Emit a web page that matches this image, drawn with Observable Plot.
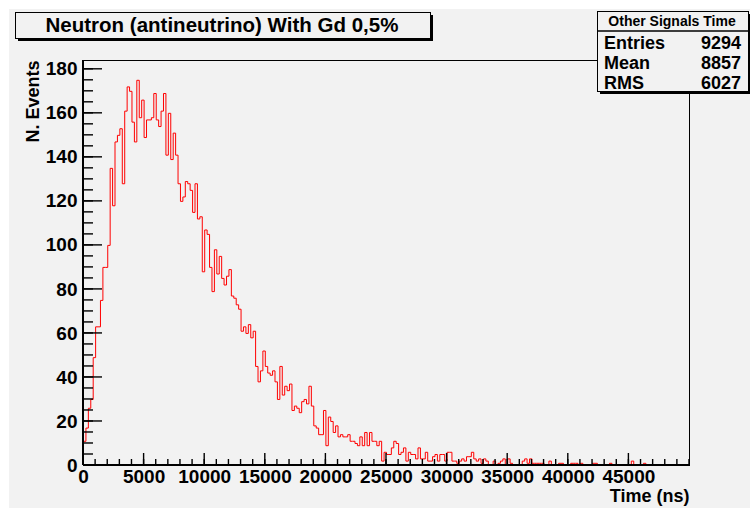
<!DOCTYPE html>
<html><head><meta charset="utf-8">
<script src="https://cdn.jsdelivr.net/npm/d3@7"></script>
<script src="https://cdn.jsdelivr.net/npm/@observablehq/plot@0.6"></script>
<style>
html,body{margin:0;padding:0;background:#fff;}
#chart svg{display:block;}
</style>
</head><body><div id="chart"></div>
<script>
// ---- data (250 bins of 200 ns, 0..50000 ns) ----
const binWidth = 200;
const counts = [
  11,17,26,30,49,63,63,75,90,90,100,
  135,118,147,150,153,128,161,172,170,156,147,175,158,166,149,157,157,158,169,157,154,161,169,141,160,139,151,141,
  128,120,122,129,128,125,115,128,112,113,88,107,105,90,79,98,87,95,85,82,86,89,77,76,73,71,61,63,60,64,58,
  61,45,38,43,52,45,42,41,43,38,30,45,32,36,34,37,25,27,26,24,29,30,28,36,27,18,17,14,14,25,9,22,20,15,18,13,
  14,13,13,14,11,11,10,9,13,9,15,9,15,11,11,9,11,
  2,6,5,5,8,11,10,5,6,8,2,6,5,5,3,8,3,3,6,2,2,4,5,2,5,5,2,6,6,2,2,1,2,3,2,4,4,6,3,2,3,1,3,2,0,0,2,0,1,2,3,
  0,3,1,0,0,0,0,2,3,1,3,1,1,1,1,1,0,0,2,0,0,0,1,1,0,0,0,1,1,1,0,1,0,0,0,0,1,1,0,0,0,0,0,1,0,0,0,0,0,0,0,0,2,0,0,0,0,1,
  0,0,0,0,0,0,0,0,0,0,0,0,0,0,0,0,0,0
];
const chartTitle = "Neutron (antineutrino) With Gd 0,5%";
const xLabel = "Time (ns)";
const yLabel = "N. Events";
const statsTitle = "Other Signals Time";
const statsNames = ["Entries", "Mean", "RMS"];
const statsValues = [9294, 8857, 6027];
const xTickLabels = [0, 5000, 10000, 15000, 20000, 25000, 30000, 35000, 40000, 45000];
const yTickLabels = [0, 20, 40, 60, 80, 100, 120, 140, 160, 180];
const xMinorTicks = d3.range(0, 50001, 1000);
const yMinorTicks = d3.range(0, 181, 5);

// step outline table
const steps = counts.map((c, i) => ({t: i * binWidth, n: c}));
steps.push({t: counts.length * binWidth, n: counts[counts.length - 1]});

const font = "'Liberation Sans', Arial, Helvetica, sans-serif";
const bg = "#f2f2f2";

const plot = Plot.plot({
  width: 750, height: 508,
  marginLeft: 83, marginRight: 61, marginTop: 60, marginBottom: 43,
  style: {fontFamily: font, fontSize: "18px", fontWeight: "bold", color: "#000", background: "transparent"},
  x: {domain: [0, 50000], label: null},
  y: {domain: [0, 184], label: null},
  marks: [
    Plot.line(steps, {x: "t", y: "n", curve: "step-after", stroke: "#ff0000", strokeWidth: 1}),
    Plot.axisX({ticks: xTickLabels, tickSize: 0, tickPadding: 4, tickFormat: d => String(d), label: null, fontSize: 19, fontWeight: "bold"}),
    Plot.axisY({ticks: yTickLabels, tickSize: 0, tickPadding: 6, tickFormat: d => String(d), label: null, fontSize: 19, fontWeight: "bold"}),
    Plot.frame({stroke: "#000", strokeWidth: 1}),
    Plot.text([xLabel], {frameAnchor: "bottom-right", textAnchor: "end", dy: 36, fontSize: 18, fontWeight: "bold", fill: "#000"}),
    Plot.text([yLabel], {frameAnchor: "top-left", rotate: -90, textAnchor: "end", dx: -57, fontSize: 18, fontWeight: "bold", fill: "#000"})
  ]
});

const svg = d3.select(plot);
const sx = plot.scale("x"), sy = plot.scale("y");
const X = v => sx.apply(v), Y = v => sy.apply(v);
const x0 = X(0), y0 = Y(0);

// canvas background (white strip at left/top, grey pad)
svg.insert("rect", ":first-child").attr("x", 9).attr("y", 9).attr("width", 741).attr("height", 499).attr("fill", bg);
svg.insert("rect", ":first-child").attr("x", 0).attr("y", 0).attr("width", 750).attr("height", 508).attr("fill", "#fff");

// inward ROOT-style ticks drawn from the plot's own scales
const ticks = svg.append("g").attr("stroke", "#000").attr("stroke-width", 1.4);
ticks.selectAll("line.xm").data(xMinorTicks).join("line").attr("class", "xm")
  .attr("x1", d => X(d)).attr("x2", d => X(d)).attr("y1", y0).attr("y2", y0 - 6);
ticks.selectAll("line.xM").data(xTickLabels).join("line").attr("class", "xM")
  .attr("x1", d => X(d)).attr("x2", d => X(d)).attr("y1", y0).attr("y2", y0 - 12);
ticks.selectAll("line.ym").data(yMinorTicks).join("line").attr("class", "ym")
  .attr("x1", x0).attr("x2", x0 + 10).attr("y1", d => Y(d)).attr("y2", d => Y(d));
ticks.selectAll("line.yM").data(yTickLabels).join("line").attr("class", "yM")
  .attr("x1", x0).attr("x2", x0 + 19).attr("y1", d => Y(d)).attr("y2", d => Y(d));
// thicker axis lines
svg.append("line").attr("x1", x0).attr("x2", X(50000)).attr("y1", y0).attr("y2", y0).attr("stroke", "#000").attr("stroke-width", 2);
svg.append("line").attr("x1", x0).attr("x2", x0).attr("y1", y0).attr("y2", Y(184)).attr("stroke", "#000").attr("stroke-width", 2);

// title box with shadow
const tb = svg.append("g");
tb.append("rect").attr("x", 18).attr("y", 15).attr("width", 415).attr("height", 26).attr("fill", "#000");
tb.append("rect").attr("x", 15.5).attr("y", 12.5).attr("width", 415).attr("height", 26).attr("fill", bg).attr("stroke", "#000").attr("stroke-width", 1);
tb.append("text").attr("x", 222).attr("y", 32).attr("text-anchor", "middle")
  .attr("font-family", font).attr("font-weight", "bold").attr("font-size", 20.5).attr("fill", "#000").text(chartTitle);

// stats box with shadow
const sb = svg.append("g");
sb.append("rect").attr("x", 600).attr("y", 14).attr("width", 150).attr("height", 80).attr("fill", "#000");
sb.append("rect").attr("x", 597.5).attr("y", 11.5).attr("width", 151).attr("height", 80).attr("fill", bg).attr("stroke", "#000").attr("stroke-width", 1);
sb.append("line").attr("x1", 597.5).attr("x2", 748.5).attr("y1", 31).attr("y2", 31).attr("stroke", "#000").attr("stroke-width", 1.5);
sb.append("text").attr("x", 672).attr("y", 25.5).attr("text-anchor", "middle")
  .attr("font-family", font).attr("font-weight", "bold").attr("font-size", 14).attr("fill", "#000").text(statsTitle);
sb.selectAll("text.name").data(statsNames).join("text").attr("class", "name")
  .attr("x", 604).attr("y", (d, i) => 48.5 + 20.3 * i).attr("text-anchor", "start")
  .attr("font-family", font).attr("font-weight", "bold").attr("font-size", 18).attr("fill", "#000").text(d => d);
sb.selectAll("text.val").data(statsValues).join("text").attr("class", "val")
  .attr("x", 741).attr("y", (d, i) => 48.5 + 20.3 * i).attr("text-anchor", "end")
  .attr("font-family", font).attr("font-weight", "bold").attr("font-size", 18).attr("fill", "#000").text(d => String(d));

document.getElementById("chart").appendChild(plot);
</script>
</body></html>
